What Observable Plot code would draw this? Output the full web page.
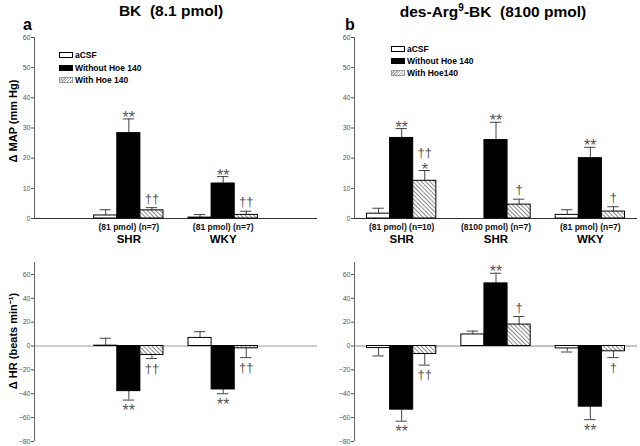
<!DOCTYPE html>
<html><head><meta charset="utf-8">
<script src="https://cdn.jsdelivr.net/npm/d3@7"></script>
<script src="https://cdn.jsdelivr.net/npm/@observablehq/plot@0.6"></script>
<style>
body{margin:0;background:#fff;font-family:"Liberation Sans",Arial,sans-serif;}
#root{position:relative;width:640px;height:446px;overflow:hidden;background:#fff;}
.abs{position:absolute;}
.title{font-weight:bold;font-size:15.5px;line-height:1;white-space:pre;transform:translateX(-50%);}
.plab{font-weight:bold;font-size:16px;line-height:1;}
.leg{font-weight:bold;font-size:8.5px;line-height:10px;display:flex;align-items:center;white-space:nowrap;}
.sw{display:inline-block;width:12px;height:4px;border:1px solid #000;margin-right:2px;background:#fff;}
.sw.k{background:#000;}
.sw.h{background:repeating-linear-gradient(-45deg,#fff 0 1px,#aaa 1px 2px);border-color:#999;}
</style></head>
<body>
<svg width="0" height="0" style="position:absolute">
  <defs>
    <pattern id="hatch" patternUnits="userSpaceOnUse" width="3" height="3" patternTransform="rotate(-45)">
      <rect width="3" height="3" fill="#fff"></rect>
      <line x1="0.5" y1="0" x2="0.5" y2="3" stroke="#8a8a8a" stroke-width="1"></line>
    </pattern>
  </defs>
</svg>
<div id="root"></div>
<script>
// ---------------- Data ----------------
const seriesA = ["aCSF", "Without Hoe 140", "With Hoe 140"];
const seriesB = ["aCSF", "Without Hoe 140", "With Hoe140"];

// Panel a: BK (8.1 pmol)
const aGroups = ["SHR", "WKY"];
const aDoses = ["(81 pmol) (n=7)", "(81 pmol) (n=7)"];
const aMapCsf = [1.0, 0.3],       aMapCsfSem = [1.9, 1.0];
const aMapWithout = [28.3, 11.6], aMapWithoutSem = [4.7, 2.3];
const aMapWith = [2.7, 1.2],      aMapWithSem = [0.9, 1.2];
const aMapSigWithout = ["**", "**"], aMapSigWith = ["††", "††"], aMapSigWith2 = ["", ""];
const aHrCsf = [0.3, 6.8],          aHrCsfSem = [6.2, 5.2];
const aHrWithout = [-37.8, -36.4],  aHrWithoutSem = [7.5, 3.6];
const aHrWith = [-7.5, -1.9],       aHrWithSem = [3.0, 7.8];
const aHrSigWithout = ["**", "**"], aHrSigWith = ["††", "††"];

// Panel b: des-Arg9-BK (8100 pmol)
const bGroups = ["SHR", "SHR", "WKY"];
const bDoses = ["(81 pmol) (n=10)", "(8100 pmol) (n=7)", "(81 pmol) (n=7)"];
const bMapCsf = [1.6, 0, 1.2],          bMapCsfSem = [1.8, 0, 1.7];
const bMapWithout = [26.7, 26.0, 20.0], bMapWithoutSem = [3.1, 5.9, 3.6];
const bMapWith = [12.5, 4.6, 2.3],      bMapWithSem = [3.4, 1.8, 1.6];
const bMapSigWithout = ["**", "**", "**"], bMapSigWith = ["*", "†", "†"], bMapSigWith2 = ["††", "", ""];
const bHrCsf = [-1.7, 9.7, -2.0],          bHrCsfSem = [6.6, 2.8, 3.0];
const bHrWithout = [-53.3, 52.5, -50.8],   bHrWithoutSem = [9.7, 8.5, 10.9];
const bHrWith = [-6.7, 18.0, -4.4],        bHrWithSem = [9.3, 6.7, 5.3];
const bHrSigWithout = ["**", "**", "**"], bHrSigWith = ["††", "†", "†"];

const mapTicks = [0, 10, 20, 30, 40, 50, 60];
const hrTicks = [-80, -60, -40, -20, 0, 20, 40, 60];

// ---------------- Layout / style ----------------
const FONT = "Liberation Sans, Arial, sans-serif";
const BW = 0.245;   // bar width in slot units
const CAP = 0.06;   // half cap width in slot units
const root = document.getElementById("root");

function makeRows(vals, sems, sigs, sigs2) {
  const rows = [];
  vals.forEach((v, s) => v.forEach((val, i) => rows.push({
    i, s, v: val, e: sems[s][i],
    sig: (sigs[s] && sigs[s][i]) || "", sig2: (sigs2[s] && sigs2[s][i]) || ""
  })));
  return rows;
}

function panel(opt) {
  const {left, top, height, mt, mb, yDomain, yTicks, yLabel, yLabelDy, rows, slot0, groups, doses, zeroColor} = opt;
  const xc = d => slot0 + d.i + (d.s - 1) * BW;
  const end = d => d.v + (d.v < 0 ? -d.e : d.e);
  const withErr = rows.filter(d => d.e > 0);
  const pos = d => d.v >= 0;
  const isStar = t => t.includes("*");
  const fills = ["#fff", "#000", "url(#hatch)"];
  const marks = [
    Plot.ruleY([0], {stroke: zeroColor, strokeWidth: 1}),
    Plot.ruleX(withErr, {x: xc, y1: "v", y2: end, stroke: "#444", strokeWidth: 1}),
    Plot.ruleY(withErr, {y: end, x1: d => xc(d) - CAP, x2: d => xc(d) + CAP, stroke: "#444", strokeWidth: 1}),
    ...[0, 1, 2].map(s => Plot.rect(rows.filter(d => d.s === s), {
      x1: d => xc(d) - BW / 2, x2: d => xc(d) + BW / 2, y1: () => 0, y2: "v",
      fill: fills[s], stroke: "#000", strokeWidth: 1
    })),
    Plot.ruleX([0], {stroke: "#666", strokeWidth: 1}),
    Plot.axisY({ticks: yTicks, tickSize: 3, tickPadding: 1, fontSize: 7, color: "#555", label: null}),
    // significance marks: stars above/below bars
    Plot.text(rows.filter(d => d.sig && isStar(d.sig) && pos(d)), {x: xc, y: end, text: "sig", lineAnchor: "middle", dy: -1, fontSize: 16, fill: "#555"}),
    Plot.text(rows.filter(d => d.sig && isStar(d.sig) && !pos(d)), {x: xc, y: end, text: "sig", lineAnchor: "middle", dy: 11, fontSize: 16, fill: "#555"}),
    // daggers
    Plot.text(rows.filter(d => d.sig && !isStar(d.sig) && pos(d)), {x: xc, y: end, text: "sig", lineAnchor: "middle", dy: -9, fontSize: 13, fill: "#555"}),
    Plot.text(rows.filter(d => d.sig && !isStar(d.sig) && !pos(d)), {x: xc, y: end, text: "sig", lineAnchor: "middle", dy: 10, fontSize: 13, fill: "#555"}),
    Plot.text(rows.filter(d => d.sig2 && pos(d)), {x: xc, y: end, text: "sig2", lineAnchor: "middle", dy: -18, fontSize: 13, fill: "#555"})
  ];
  if (yLabel) {
    marks.push(Plot.text([yLabel], {text: d => d, frameAnchor: "left", textAnchor: "middle", rotate: -90,
      dx: -21, dy: yLabelDy, fontSize: 11, fontWeight: "bold", fill: "#000"}));
  }
  if (groups) {
    const g = groups.map((name, i) => ({i, s: 1, name, dose: doses[i]}));
    marks.push(Plot.text(g, {x: xc, y: () => 0, text: "dose", dy: 9, lineAnchor: "middle", fontSize: 8.5, fontWeight: "bold", fill: "#111"}));
    marks.push(Plot.text(g, {x: xc, y: () => 0, text: "name", dy: 21, lineAnchor: "middle", fontSize: 11.5, fontWeight: "bold", fill: "#000"}));
  }
  const svg = Plot.plot({
    width: 320, height, marginLeft: 34, marginRight: 3, marginTop: mt, marginBottom: mb,
    style: {fontFamily: FONT, background: "transparent", overflow: "visible"},
    x: {domain: [0, 3], axis: null},
    y: {domain: yDomain, axis: null},
    marks
  });
  svg.style.position = "absolute";
  svg.style.left = left + "px";
  svg.style.top = top + "px";
  root.appendChild(svg);
}

panel({left: 0, top: 30, height: 220, mt: 7, mb: 32, yDomain: [0, 60], yTicks: mapTicks,
  yLabel: "Δ MAP (mm Hg)", yLabelDy: -7, slot0: 1, groups: aGroups, doses: aDoses, zeroColor: "#333",
  rows: makeRows([aMapCsf, aMapWithout, aMapWith], [aMapCsfSem, aMapWithoutSem, aMapWithSem], [[], aMapSigWithout, aMapSigWith], [[], [], aMapSigWith2])});
panel({left: 320, top: 30, height: 220, mt: 7, mb: 32, yDomain: [0, 60], yTicks: mapTicks,
  yLabel: "", yLabelDy: 0, slot0: 0.5, groups: bGroups, doses: bDoses, zeroColor: "#333",
  rows: makeRows([bMapCsf, bMapWithout, bMapWith], [bMapCsfSem, bMapWithoutSem, bMapWithSem], [[], bMapSigWithout, bMapSigWith], [[], [], bMapSigWith2])});
panel({left: 0, top: 250, height: 196, mt: 12, mb: 5, yDomain: [-80, 70], yTicks: hrTicks,
  yLabel: "Δ HR (beats min⁻¹)", yLabelDy: -11, slot0: 1, zeroColor: "#999",
  rows: makeRows([aHrCsf, aHrWithout, aHrWith], [aHrCsfSem, aHrWithoutSem, aHrWithSem], [[], aHrSigWithout, aHrSigWith], [[], [], []])});
panel({left: 320, top: 250, height: 196, mt: 12, mb: 5, yDomain: [-80, 70], yTicks: hrTicks,
  yLabel: "", yLabelDy: 0, slot0: 0.5, zeroColor: "#888",
  rows: makeRows([bHrCsf, bHrWithout, bHrWith], [bHrCsfSem, bHrWithoutSem, bHrWithSem], [[], bHrSigWithout, bHrSigWith], [[], [], []])});

// ---------------- Titles, panel letters, legends ----------------
function addDiv(cls, html, styles) {
  const d = document.createElement("div");
  d.className = cls + " abs";
  d.innerHTML = html;
  Object.assign(d.style, styles);
  root.appendChild(d);
}
addDiv("title", "BK  (8.1 pmol)", {left: "171px", top: "3px"});
addDiv("title", "des-Arg<sup style=\"font-size:10px;vertical-align:6px\">9</sup>-BK  (8100 pmol)", {left: "493px", top: "3px"});
addDiv("plab", "a", {left: "23px", top: "17px"});
addDiv("plab", "b", {left: "345px", top: "17px"});
const swCls = ["sw", "sw k", "sw h"];
seriesA.forEach((name, k) => addDiv("leg", `<span class="${swCls[k]}"></span>${name}`, {left: "59px", top: (50 + k * 12.5) + "px"}));
seriesB.forEach((name, k) => addDiv("leg", `<span class="${swCls[k]}"></span>${name}`, {left: "391px", top: (44 + k * 12) + "px"}));
</script>
</body></html>
